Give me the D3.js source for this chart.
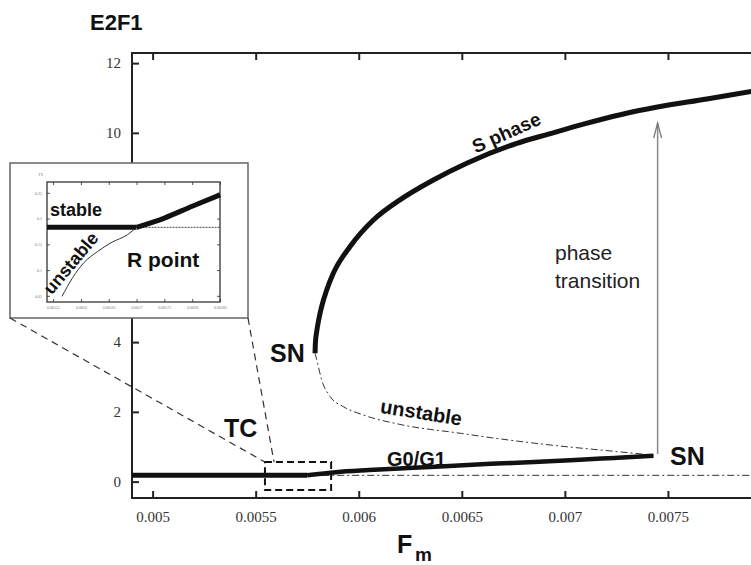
<!DOCTYPE html>
<html>
<head>
<meta charset="utf-8">
<script src="https://cdn.jsdelivr.net/npm/d3@7"></script>
<style>
  body { margin: 0; background: #fff; }
  svg { display: block; }
  text { font-family: "Liberation Sans", Arial, sans-serif; fill: #111; }
</style>
</head>
<body>
<svg id="chart"></svg>
<script>
const width = 751, height = 565;

// main axis ticks
const xTicks = [0.005, 0.0055, 0.006, 0.0065, 0.007, 0.0075];
const yTicks = [0, 2, 4, 6, 8, 10, 12];

// branches, [Fm, E2F1]
const restStable = [[0.0049, 0.18], [0.00575, 0.18]];
const restUnstable = [[0.00575, 0.18], [0.008, 0.18]];
const g0g1Stable = [
  [0.00575, 0.18], [0.00589, 0.27], [0.00605, 0.33], [0.00624, 0.39], [0.00644, 0.45],
  [0.00664, 0.51], [0.00685, 0.56], [0.00705, 0.62], [0.00724, 0.68], [0.00743, 0.74]
];
const sPhaseStable = [
  [0.005788, 3.68], [0.00579, 4.0], [0.005796, 4.3], [0.005806, 4.65], [0.00582, 5.02],
  [0.005845, 5.5], [0.005877, 5.98], [0.005958, 6.74], [0.006071, 7.5], [0.0062, 8.08],
  [0.006362, 8.65], [0.006524, 9.13], [0.006767, 9.7], [0.00693, 9.98], [0.00709, 10.25],
  [0.007269, 10.52], [0.007449, 10.74], [0.007689, 10.97], [0.007905, 11.19], [0.008, 11.28]
];
const middleUnstable = [
  [0.005788, 3.68], [0.005796, 3.5], [0.00582, 2.92], [0.005861, 2.44], [0.005925, 2.15],
  [0.006022, 1.91], [0.0062, 1.64], [0.0065, 1.38], [0.006605, 1.29], [0.006929, 1.05],
  [0.007252, 0.86], [0.007398, 0.77], [0.00743, 0.74]
];
const zoomBox = {x0: 0.005545, x1: 0.005866, y0: -0.24, y1: 0.56};
const transition = {fm: 0.00745, from: 0.79, to: 10.28};

// inset (close-up of TC point)
const insetXTicks = [0.00555, 0.0056, 0.00565, 0.0057, 0.00575, 0.0058, 0.00585];
const insetYTicks = [0.05, 0.1, 0.15, 0.2, 0.25];
const insetStable = [[0.005539, 0.183], [0.0057, 0.183]];
const insetStableRise = [[0.0057, 0.183], [0.00575, 0.201], [0.0058, 0.224], [0.00585, 0.246]];
const insetUnstableFlat = [[0.0057, 0.183], [0.00585, 0.183]];
const insetUnstableCurve = [
  [0.005566, 0.049], [0.005585, 0.085], [0.005605, 0.114], [0.00563, 0.136],
  [0.005654, 0.153], [0.005684, 0.169], [0.0057, 0.183]
];

const svg = d3.select('#chart')
  .attr('width', width)
  .attr('height', height);

const x = d3.scaleLinear().domain([0.0049, 0.008]).range([132, 771]);
const y = d3.scaleLinear().domain([-0.47, 12.29]).range([498, 53]);

svg.append('defs').append('clipPath').attr('id', 'plot-clip')
  .append('rect')
  .attr('x', x.range()[0]).attr('y', y.range()[1])
  .attr('width', x.range()[1] - x.range()[0])
  .attr('height', y.range()[0] - y.range()[1]);

// axes, ticks pointing inward
const serif = 'Liberation Serif';
const fmt = d => d.toString();
svg.append('g').attr('class', 'axis')
  .attr('transform', `translate(0,${y.range()[0]})`)
  .call(d3.axisBottom(x).tickValues(xTicks).tickFormat(fmt).tickSizeInner(-7).tickSizeOuter(0).tickPadding(13));
svg.append('g').attr('class', 'axis')
  .attr('transform', `translate(0,${y.range()[1]})`)
  .call(d3.axisTop(x).tickValues(xTicks).tickFormat('').tickSizeInner(-7).tickSizeOuter(0));
svg.append('g').attr('class', 'axis')
  .attr('transform', `translate(${x.range()[0]},0)`)
  .call(d3.axisLeft(y).tickValues(yTicks).tickSizeInner(-7).tickSizeOuter(0).tickPadding(11));

svg.selectAll('.axis').attr('font-family', serif);
svg.selectAll('.axis .domain').remove();
svg.selectAll('.axis .tick line').attr('stroke', '#222').attr('stroke-width', 2);
svg.selectAll('.axis .tick text')
  .style('font-family', serif)
  .style('font-size', '15px')
  .style('fill', '#333');

svg.append('rect')
  .attr('x', x.range()[0]).attr('y', y.range()[1])
  .attr('width', x.range()[1] - x.range()[0])
  .attr('height', y.range()[0] - y.range()[1])
  .attr('fill', 'none').attr('stroke', '#222').attr('stroke-width', 2);

// curves
const line = d3.line().x(d => x(d[0])).y(d => y(d[1])).curve(d3.curveMonotoneX);
const plot = svg.append('g').attr('clip-path', 'url(#plot-clip)');

plot.append('path').datum(restUnstable).attr('d', line)
  .attr('fill', 'none').attr('stroke', '#333').attr('stroke-width', 1).attr('stroke-dasharray', '7,3,2,3');
plot.append('path').datum(middleUnstable).attr('d', line)
  .attr('fill', 'none').attr('stroke', '#333').attr('stroke-width', 1).attr('stroke-dasharray', '7,3,2,3');
plot.append('path').datum(restStable).attr('d', line)
  .attr('fill', 'none').attr('stroke', '#111').attr('stroke-width', 5);
plot.append('path').datum(g0g1Stable).attr('d', line)
  .attr('fill', 'none').attr('stroke', '#111').attr('stroke-width', 4.5);
plot.append('path').datum(sPhaseStable).attr('d', line)
  .attr('fill', 'none').attr('stroke', '#111').attr('stroke-width', 5);

// phase transition arrow
const ax = x(transition.fm), ay0 = y(transition.from), ay1 = y(transition.to);
svg.append('line')
  .attr('x1', ax).attr('x2', ax).attr('y1', ay0).attr('y2', ay1)
  .attr('stroke', '#888').attr('stroke-width', 1.5);
svg.append('path')
  .attr('d', `M${ax - 4},${ay1 + 15}L${ax},${ay1}L${ax + 4},${ay1 + 15}`)
  .attr('fill', 'none').attr('stroke', '#777').attr('stroke-width', 1.3);

// dashed box around TC
svg.append('rect')
  .attr('x', x(zoomBox.x0)).attr('y', y(zoomBox.y1))
  .attr('width', x(zoomBox.x1) - x(zoomBox.x0))
  .attr('height', y(zoomBox.y0) - y(zoomBox.y1))
  .attr('fill', 'none').attr('stroke', '#111').attr('stroke-width', 2).attr('stroke-dasharray', '7,4');

// inset
const box = {x: 10, y: 163, w: 238, h: 155};
svg.append('rect')
  .attr('x', box.x).attr('y', box.y).attr('width', box.w).attr('height', box.h)
  .attr('fill', '#fff').attr('stroke', '#666').attr('stroke-width', 1.5);

svg.append('line').attr('x1', box.x).attr('y1', box.y + box.h)
  .attr('x2', x(zoomBox.x0)).attr('y2', y(zoomBox.y1))
  .attr('stroke', '#333').attr('stroke-width', 1.2).attr('stroke-dasharray', '7,5');
svg.append('line').attr('x1', box.x + box.w).attr('y1', box.y + box.h)
  .attr('x2', x(0.005589)).attr('y2', y(zoomBox.y1))
  .attr('stroke', '#333').attr('stroke-width', 1.2).attr('stroke-dasharray', '7,5');

const ix = d3.scaleLinear().domain([0.005539, 0.00585]).range([47, 220]);
const iy = d3.scaleLinear().domain([0.038, 0.271]).range([302, 182]);
const inset = svg.append('g');

inset.append('g').attr('class', 'iaxis').attr('transform', `translate(0,${iy.range()[0]})`)
  .call(d3.axisBottom(ix).tickValues(insetXTicks).tickFormat(fmt).tickSizeInner(-3).tickSizeOuter(0).tickPadding(4));
inset.append('g').attr('class', 'iaxis').attr('transform', `translate(0,${iy.range()[1]})`)
  .call(d3.axisTop(ix).tickValues(insetXTicks).tickFormat('').tickSizeInner(-3).tickSizeOuter(0));
inset.append('g').attr('class', 'iaxis').attr('transform', `translate(${ix.range()[0]},0)`)
  .call(d3.axisLeft(iy).tickValues(insetYTicks).tickFormat(fmt).tickSizeInner(-3).tickSizeOuter(0).tickPadding(5));
inset.append('g').attr('class', 'iaxis').attr('transform', `translate(${ix.range()[1]},0)`)
  .call(d3.axisRight(iy).tickValues(insetYTicks).tickFormat('').tickSizeInner(-3).tickSizeOuter(0));
inset.selectAll('.iaxis .domain').remove();
inset.selectAll('.iaxis .tick line').attr('stroke', '#555');
inset.selectAll('.iaxis .tick text')
  .style('font-family', serif).style('font-size', '4px').style('fill', '#777');

inset.append('rect')
  .attr('x', ix.range()[0]).attr('y', iy.range()[1])
  .attr('width', ix.range()[1] - ix.range()[0]).attr('height', iy.range()[0] - iy.range()[1])
  .attr('fill', 'none').attr('stroke', '#333').attr('stroke-width', 1.3);

const iline = d3.line().x(d => ix(d[0])).y(d => iy(d[1])).curve(d3.curveMonotoneX);
inset.append('path').datum(insetUnstableFlat).attr('d', iline)
  .attr('fill', 'none').attr('stroke', '#444').attr('stroke-width', 1).attr('stroke-dasharray', '2,1');
inset.append('path').datum(insetUnstableCurve).attr('d', iline)
  .attr('fill', 'none').attr('stroke', '#333').attr('stroke-width', 1);
inset.append('path').datum(insetStable).attr('d', iline)
  .attr('fill', 'none').attr('stroke', '#111').attr('stroke-width', 5);
inset.append('path').datum(insetStableRise).attr('d', iline)
  .attr('fill', 'none').attr('stroke', '#111').attr('stroke-width', 5);

inset.append('text').attr('x', 38).attr('y', 176).style('font-size', '4px').style('fill', '#666').text('Y1');
inset.append('text').attr('x', 50).attr('y', 216).style('font-size', '18px').style('font-weight', 'bold').text('stable');
inset.append('text').attr('transform', 'translate(72,264) rotate(-50)')
  .attr('text-anchor', 'middle').attr('dominant-baseline', 'middle')
  .style('font-size', '18px').style('font-weight', 'bold').text('unstable');
inset.append('text').attr('x', 127).attr('y', 267).style('font-size', '21px').style('font-weight', 'bold').text('R point');

// labels
const bold = (sel, size) => sel.style('font-size', size + 'px').style('font-weight', 'bold');
bold(svg.append('text').attr('x', 90).attr('y', 30).text('E2F1'), 22);
bold(svg.append('text').attr('x', 397).attr('y', 553).text('F'), 25);
bold(svg.append('text').attr('x', 415).attr('y', 561).text('m'), 19);
bold(svg.append('text').attr('transform', 'translate(507,134) rotate(-24)')
  .attr('text-anchor', 'middle').attr('dominant-baseline', 'middle').text('S phase'), 19);
bold(svg.append('text').attr('x', 270).attr('y', 362).text('SN'), 25);
bold(svg.append('text').attr('x', 670).attr('y', 465).text('SN'), 25);
bold(svg.append('text').attr('x', 224).attr('y', 437).text('TC'), 25);
bold(svg.append('text').attr('transform', 'translate(421,414) rotate(9)')
  .attr('text-anchor', 'middle').attr('dominant-baseline', 'middle').text('unstable'), 20);
bold(svg.append('text').attr('x', 387).attr('y', 466).text('G0/G1'), 20);

svg.append('text').attr('x', 555).attr('y', 260).style('font-size', '21px').style('fill', '#222').text('phase');
svg.append('text').attr('x', 555).attr('y', 288).style('font-size', '21px').style('fill', '#222').text('transition');
</script>
</body>
</html>
